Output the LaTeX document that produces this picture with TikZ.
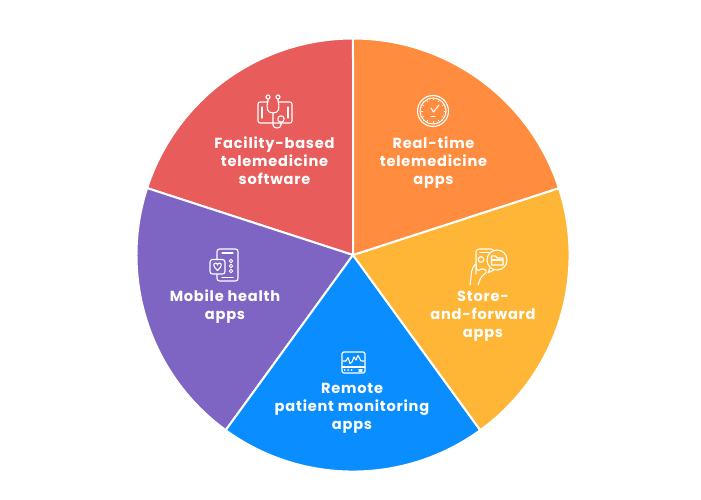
\documentclass[tikz,border=0pt]{standalone}
\usepackage{fontspec}
\setmainfont{Poppins}[LetterSpace=5.2]
\definecolor{cred}{HTML}{E95C5C}
\definecolor{corange}{HTML}{FF8C3F}
\definecolor{cyellow}{HTML}{FFB535}
\definecolor{cblue}{HTML}{0A8DFF}
\definecolor{cpurple}{HTML}{7E65C4}
\tikzset{
 wedge/.style={draw=white,line width=2pt,line join=round},
 lbl/.style={text=white,font=\fontsize{14.6}{18}\selectfont\bfseries,align=center,inner sep=0pt},
 ico/.style={draw=white,line width=1.1pt,line cap=round,line join=round},
}
\begin{document}
\begin{tikzpicture}[x=1pt,y=-1pt]
\useasboundingbox (0,0) rectangle (701,500);
\fill[white] (0,0) rectangle (701,500);
\def\R{216.5}
\coordinate (c) at (353,255);
\draw[wedge,fill=cred] (c) -- (353,38.5) arc[start angle=-90,end angle=-162,radius=\R] -- cycle;
\draw[wedge,fill=cpurple] (c) -- (147.1,188.1) arc[start angle=-162,end angle=-234,radius=\R] -- cycle;
\draw[wedge,fill=cblue] (c) -- (225.7,430.2) arc[start angle=126,end angle=54,radius=\R] -- cycle;
\draw[wedge,fill=cyellow] (c) -- (480.3,430.2) arc[start angle=54,end angle=-18,radius=\R] -- cycle;
\draw[wedge,fill=corange] (c) -- (558.9,188.1) arc[start angle=-18,end angle=-90,radius=\R] -- cycle;
\node[lbl] (t1) at (274.5,161) {Facility-based\\telemedicine\\software};
\node[lbl] (t2) at (433.5,163) {Real-time\\telemedicine\\apps};
\node[lbl] (t3) at (483,316) {Store-\\and-forward\\apps};
\node[lbl] (t4) at (352,408) {Remote\\patient monitoring\\apps};
\node[lbl] (t5) at (225,307) {Mobile health\\apps};
% stethoscope icon
\draw[ico,rounded corners=2pt] (258,102) rectangle (292,123);
\draw[ico] (262,107)--(262,118) (288,107)--(288,118);
\draw[ico,fill=cred] (268,98) -- (268,101) .. controls (266,108) and (267,113) .. (273,113) .. controls (279,113) and (280,108) .. (278,101) -- (278,98);
\draw[ico,fill=cred] (268,97) circle[radius=2];
\draw[ico,fill=cred] (278,97) circle[radius=2];
\draw[ico] (273,113) -- (273,125) .. controls (273,129) and (281,129) .. (281,125) -- (281,122);
\draw[ico,fill=cred] (281,119) circle[radius=3.2];
% clock icon
\draw[ico] (433,111) circle[radius=15.5];
\draw[ico] (433,111) circle[radius=13];
\draw[ico] (431,108) -- (433.5,112) -- (439,105);
\draw[ico] (431,116.5)--(435,116.5);
\foreach \a in {0,30,60,90,120,150,180,210,240,270,300,330}{\draw[white,line width=0.7pt] (433,111)++(\a:10.5) -- ++(\a:1.5);}
% store and forward icon
\draw[ico,rounded corners=3pt] (476,274) -- (476,249) -- (494,249) -- (494,251);
\draw[ico] (480,252.5)--(489,252.5);
\draw[ico] (481,259.5) circle[radius=2.8];
\draw[ico,fill=cyellow] (490,268) -- (488,273) -- (494,270);
\draw[ico,fill=cyellow] (497,260) circle[radius=10];
\draw[ico] (491.5,256)--(491.5,265)--(503,265)--(503,258)--(497,258)--(495.5,256)--cycle;
\draw[ico] (491.5,260)--(503,260);
\draw[ico,rounded corners=2pt] (470,285) -- (472,269) -- (476,263) -- (477,271) -- (484,268) -- (487,272) -- (481,277) -- (478,285);
% monitor icon
\draw[ico,rounded corners=1.5pt] (342,352) rectangle (365,373);
\draw[ico] (342,367)--(365,367);
\draw[ico] (343,361)--(346,361)--(348,357.5)--(350,363.5)--(352,362)--(354,357)--(356,360)--(358,355.5)--(361,361)--(364,361);
\foreach \x in {344.5,348,351.5}{\fill[white] (\x,370) circle[radius=1];}
\draw[ico] (359,369.5)--(362,369.5) (359,371)--(362,371);
% mobile icon
\draw[ico,rounded corners=2.5pt] (217,249) rectangle (238,281);
\draw[ico] (222,253)--(233,253) (222,277.5)--(233,277.5);
\foreach \y in {261,266,271}{\draw[ico,line width=0.8pt] (231,\y) circle[radius=1.8];}
\draw[ico,rounded corners=2.5pt,fill=cpurple] (210,259.5) rectangle (225,274);
\draw[ico,fill=none] (217.5,270.5) .. controls (213,267) and (213,263) .. (215.5,263) .. controls (216.5,263) and (217.5,264) .. (217.5,265) .. controls (217.5,264) and (218.5,263) .. (219.5,263) .. controls (222,263) and (222,267) .. (217.5,270.5) -- cycle;
\end{tikzpicture}
\end{document}
